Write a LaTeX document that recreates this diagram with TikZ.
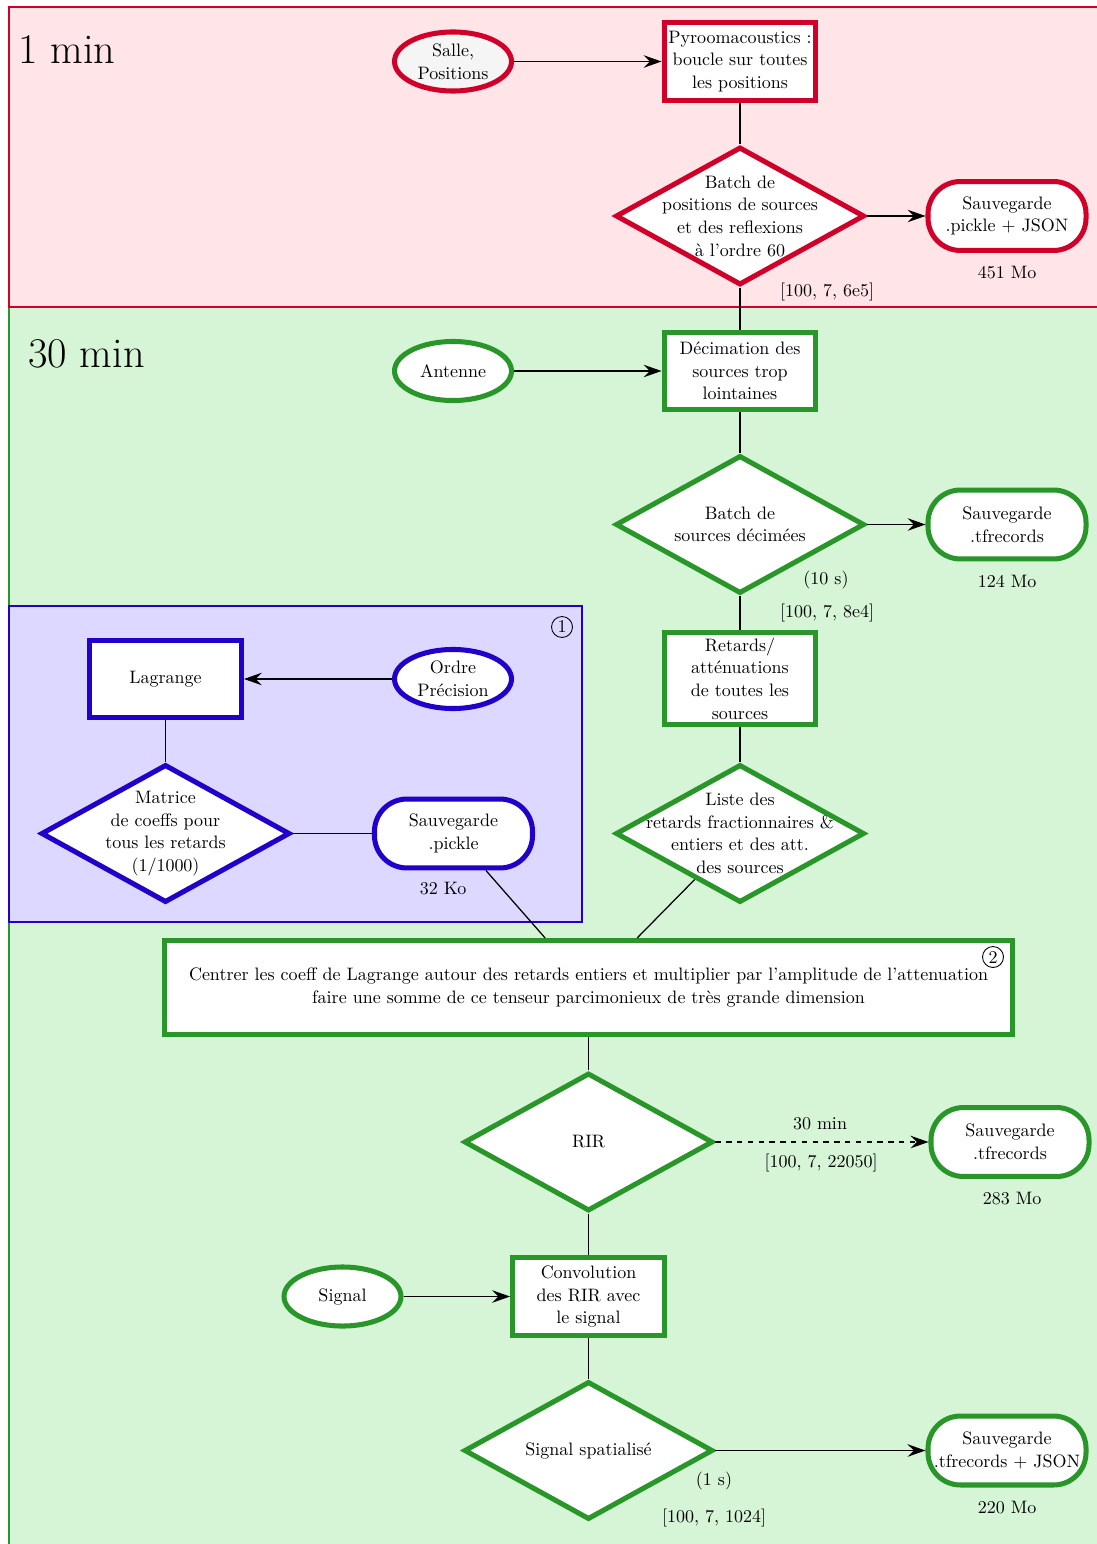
\documentclass[tikz,border=0pt]{standalone}
\usetikzlibrary{shapes.geometric}
\usetikzlibrary{arrows.meta}

\definecolor{zonered}{RGB}{208,0,40}
\definecolor{zonepink}{RGB}{255,228,232}
\definecolor{zonegreen}{RGB}{40,150,40}
\definecolor{zonemint}{RGB}{214,245,214}
\definecolor{zoneblue}{RGB}{34,0,204}
\definecolor{zonelilac}{RGB}{221,216,255}

\tikzset{
  every node/.append style={font=\fontsize{10}{12.6}\selectfont},
  inputnode/.style={ellipse, draw, line width=2.8pt, fill=white,
    minimum width=65pt, minimum height=32.8pt, inner sep=1pt, align=center},
  process/.style={rectangle, draw, line width=2.8pt, fill=white,
    minimum width=84.4pt, minimum height=43.3pt, inner sep=2pt, align=center},
  decision/.style={diamond, draw, line width=2.8pt, fill=white,
    minimum width=138.3pt, minimum height=76.7pt, inner sep=0pt},
  dtext/.style={align=center},
  storage/.style={rectangle, rounded corners=18pt, draw, line width=2.8pt, fill=white,
    minimum width=87.8pt, minimum height=38.3pt, inner sep=2pt, align=center},
  link/.style={line width=0.7pt},
  flow/.style={line width=0.7pt, -{Stealth[length=10pt,width=7pt,inset=3.5pt]}},
  tag/.style={circle, draw, inner sep=1.2pt, line width=0.5pt},
  zone/.style={line width=1pt},
  zonetitle/.style={anchor=base west, inner sep=0pt, font=\fontsize{23.5}{28}\selectfont},
}

\begin{document}
\begin{tikzpicture}[x=1.9528cm, y=1.9528cm]
    \useasboundingbox (0,0) rectangle (10.96,-15.44);

    % Draw the two time zones
    \draw[zone, draw=zonegreen, fill=zonemint] (0.09,-3.07) rectangle (11.4,-15.9);
    \draw[zone, draw=zonered, fill=zonepink] (0.09,-0.07) rectangle (11.4,-3.07);
    \draw[zone, draw=zoneblue, fill=zonelilac] (0.09,-6.06) rectangle (5.82,-9.22);

    \node[zonetitle] (tred) at (0.18,-0.64) {1 min};
    \node[zonetitle] (tgreen) at (0.28,-3.67) {30 min};

    % Image sources (1 min)
    \node[inputnode, draw=zonered, fill=black!4] (salle) at (4.53,-0.615) {Salle,\\Positions};
    \node[process, draw=zonered] (pyro) at (7.40,-0.615) {Pyroomacoustics :\\boucle sur toutes\\les positions};
    \node[decision, draw=zonered, label={[dtext]center:Batch de\\positions de sources\\et des reflexions\\à l'ordre 60}] (batchR) at (7.40,-2.16) {};
    \node[storage, draw=zonered] (saveR) at (10.07,-2.16) {Sauvegarde\\.pickle + JSON};
    \node (sizeR) at (10.07,-2.73) {451 Mo};
    \node (dimR) at (8.27,-2.92) {[100, 7, 6e5]};

    % Decimation (30 min)
    \node[inputnode, draw=zonegreen] (antenne) at (4.53,-3.71) {Antenne};
    \node[process, draw=zonegreen] (decim) at (7.40,-3.71) {Décimation des\\sources trop\\lointaines};
    \node[decision, draw=zonegreen, label={[dtext]center:Batch de\\sources décimées}] (batchG) at (7.40,-5.245) {};
    \node[storage, draw=zonegreen] (saveG) at (10.07,-5.245) {Sauvegarde\\.tfrecords};
    \node (timeG) at (8.26,-5.80) {(10 s)};
    \node (sizeG) at (10.07,-5.81) {124 Mo};
    \node (dimG) at (8.27,-6.13) {[100, 7, 8e4]};

    \node[process, draw=zonegreen, minimum height=51.1pt] (retards) at (7.40,-6.785) {Retards/\\atténuations\\de toutes les\\sources};
    \node[decision, draw=zonegreen, label={[dtext]center:Liste des\\retards fractionnaires \&\\entiers et des att.\\des sources}] (liste) at (7.40,-8.335) {};

    % Lagrange coefficients
    \node[tag] (one) at (5.62,-6.27) {1};
    \node[process, draw=zoneblue] (lagrange) at (1.655,-6.79) {Lagrange};
    \node[inputnode, draw=zoneblue] (ordre) at (4.53,-6.79) {Ordre\\Précision};
    \node[decision, draw=zoneblue, label={[dtext]center:Matrice\\de coeffs pour\\tous les retards\\(1/1000)}] (matrice) at (1.655,-8.335) {};
    \node[storage, draw=zoneblue] (saveB) at (4.535,-8.335) {Sauvegarde\\.pickle};
    \node (sizeB) at (4.43,-8.89) {32 Ko};

    % Sparse sum, RIR and convolution
    \node[process, draw=zonegreen, minimum width=471pt, minimum height=52.2pt] (somme) at (5.885,-9.875) {Centrer les coeff de Lagrange autour des retards entiers et multiplier par l'amplitude de l'attenuation\\faire une somme de ce tenseur parcimonieux de très grande dimension};
    \node[tag] (two) at (9.93,-9.57) {2};

    \node[decision, draw=zonegreen, label={[dtext]center:RIR}] (rir) at (5.885,-11.42) {};
    \node[storage, draw=zonegreen] (saveRIR) at (10.10,-11.42) {Sauvegarde\\.tfrecords};
    \node (timeRIR) at (8.20,-11.24) {30 min};
    \node (dimRIR) at (8.21,-11.63) {[100, 7, 22050]};
    \node (sizeRIR) at (10.12,-11.99) {283 Mo};

    \node[inputnode, draw=zonegreen] (signal) at (3.425,-12.965) {Signal};
    \node[process, draw=zonegreen] (conv) at (5.885,-12.965) {Convolution\\des RIR avec\\le signal};
    \node[decision, draw=zonegreen, label={[dtext]center:Signal spatialisé}] (spat) at (5.885,-14.505) {};
    \node[storage, draw=zonegreen] (saveSpat) at (10.07,-14.505) {Sauvegarde\\.tfrecords + JSON};
    \node (timeSpat) at (7.14,-14.81) {(1 s)};
    \node (dimSpat) at (7.14,-15.18) {[100, 7, 1024]};
    \node (sizeSpat) at (10.07,-15.08) {220 Mo};

    % Draw the connectors
    \draw[flow] (salle) -- (pyro);
    \draw[link] (pyro) -- (batchR);
    \draw[flow] (batchR) -- (saveR);
    \draw[link] (batchR) -- (decim);
    \draw[flow] (antenne) -- (decim);
    \draw[link] (decim) -- (batchG);
    \draw[flow] (batchG) -- (saveG);
    \draw[link] (batchG) -- (retards);
    \draw[link] (retards) -- (liste);
    \draw[flow] (ordre) -- (lagrange);
    \draw[link] (lagrange) -- (matrice);
    \draw[link] (matrice) -- (saveB);
    \draw[link] (saveB) -- (somme);
    \draw[link] (liste) -- (somme);
    \draw[link] (somme) -- (rir);
    \draw[flow, dashed] (rir) -- (saveRIR);
    \draw[link] (rir) -- (conv);
    \draw[flow] (signal) -- (conv);
    \draw[link] (conv) -- (spat);
    \draw[flow] (spat) -- (saveSpat);

\end{tikzpicture}
\end{document}
